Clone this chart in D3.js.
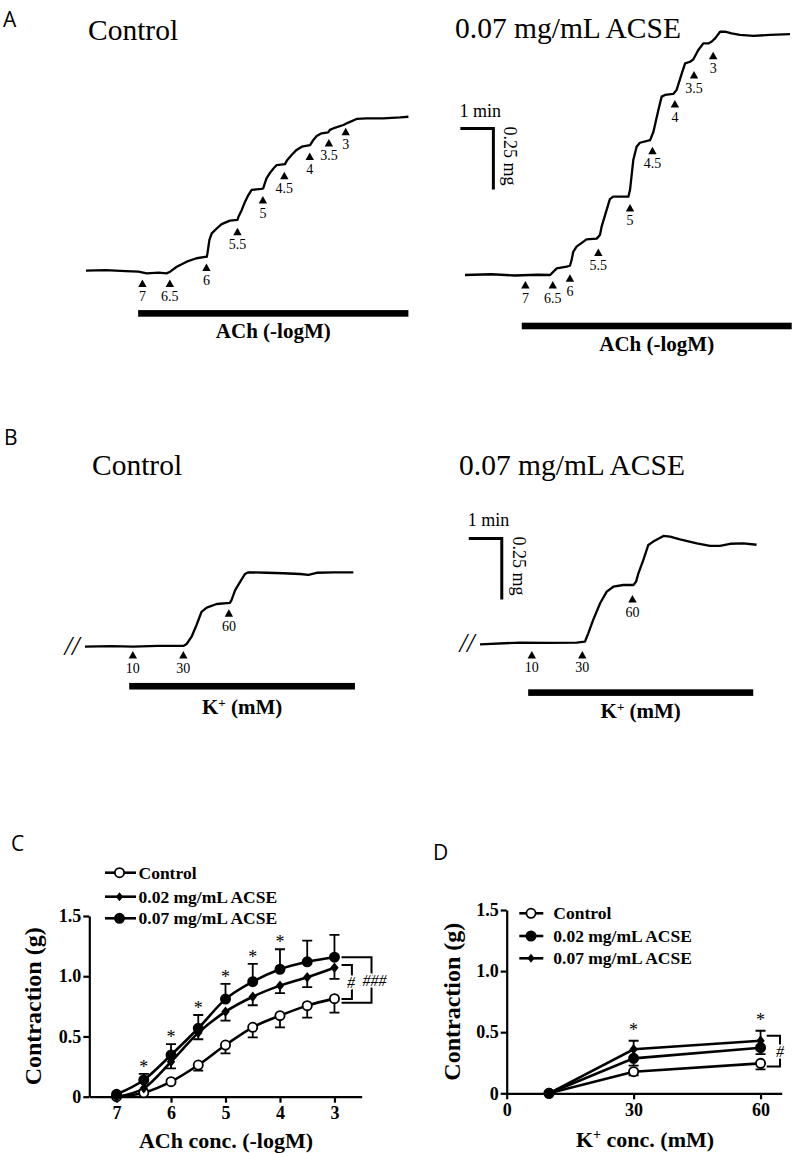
<!DOCTYPE html>
<html>
<head>
<meta charset="utf-8">
<script src="https://cdn.jsdelivr.net/npm/d3@7"></script>
<style>
body { margin: 0; background: #fff; }
svg { display: block; }
text { font-family: "Liberation Serif", "Times New Roman", serif; fill: #000; }
.letter { font-family: "Open Sans", "Noto Sans", sans-serif; font-size: 21px; }
</style>
</head>
<body>
<svg id="fig" width="795" height="1153"></svg>
<script>
// ---- Data: isometric tension traces (time in min, tension in mg) ----
const aControlTrace = [[0,0],[0.6,0.002],[1.2,-0.002],[1.59,-0.004],[1.84,-0.011],[2.2,-0.008],[2.44,-0.011],[2.55,-0.004],[2.75,0.016],[3.05,0.037],[3.35,0.051],[3.61,0.057],[3.66,0.057],[3.68,0.071],[3.74,0.126],[3.81,0.153],[3.96,0.173],[4.11,0.191],[4.36,0.205],[4.59,0.208],[4.62,0.221],[4.72,0.249],[4.82,0.283],[4.92,0.31],[5.02,0.331],[5.32,0.335],[5.37,0.337],[5.4,0.351],[5.47,0.378],[5.58,0.402],[5.68,0.419],[5.78,0.433],[6.03,0.437],[6.1,0.454],[6.23,0.474],[6.38,0.495],[6.54,0.508],[6.79,0.515],[6.89,0.536],[6.99,0.552],[7.14,0.563],[7.34,0.567],[7.39,0.577],[7.49,0.583],[7.8,0.597],[7.95,0.607],[8.2,0.622],[8.5,0.624],[9.01,0.624],[9.52,0.628],[9.77,0.631]]
const aAcseTrace = [[0,0],[0.8,0.003],[1.5,-0.002],[2.2,0.001],[2.58,0],[2.68,0.014],[2.78,0.027],[3.08,0.034],[3.18,0.038],[3.23,0.061],[3.28,0.095],[3.38,0.116],[3.58,0.136],[3.68,0.146],[3.99,0.149],[4.09,0.164],[4.14,0.198],[4.29,0.266],[4.39,0.311],[4.49,0.321],[4.95,0.321],[5.0,0.348],[5.1,0.471],[5.2,0.526],[5.3,0.542],[5.61,0.553],[5.71,0.587],[5.86,0.676],[5.96,0.731],[6.06,0.738],[6.31,0.742],[6.41,0.758],[6.57,0.826],[6.67,0.867],[6.82,0.874],[6.92,0.884],[7.07,0.922],[7.22,0.949],[7.37,0.949],[7.47,0.956],[7.58,0.97],[7.73,0.997],[7.88,0.997],[8.08,0.99],[8.33,0.984],[8.74,0.98],[9.24,0.984],[9.85,0.987]]
const bControlTrace = [[0,0],[0.8,0.002],[1.46,0],[2.2,0.003],[2.98,0.003],[3.08,0.011],[3.23,0.041],[3.38,0.089],[3.53,0.143],[3.69,0.16],[3.99,0.175],[4.39,0.18],[4.44,0.191],[4.55,0.232],[4.7,0.266],[4.85,0.298],[4.95,0.305],[5.5,0.303],[6.01,0.301],[6.52,0.298],[6.77,0.294],[7.02,0.303],[7.53,0.305],[8.13,0.305]]
const bAcseTrace = [[0,0],[1.21,0.007],[2.1,0.006],[2.93,0.007],[3.18,0.011],[3.28,0.045],[3.43,0.1],[3.64,0.168],[3.84,0.216],[4.04,0.236],[4.34,0.243],[4.65,0.243],[4.73,0.257],[4.8,0.291],[4.95,0.346],[5.1,0.407],[5.25,0.421],[5.56,0.444],[5.76,0.441],[6.06,0.43],[6.57,0.414],[6.97,0.403],[7.27,0.403],[7.58,0.412],[7.98,0.414],[8.38,0.408]]

// agonist additions: label, time (min), arrow tip (mg)
const aControlDoses = [["7",1.71,-0.036],["6.5",2.54,-0.036],["6",3.65,0.03],["5.5",4.59,0.176],["5",5.36,0.306],["4.5",6.01,0.406],["4",6.78,0.484],["3.5",7.36,0.54],["3",7.87,0.586]]
const aAcseDoses = [["7",1.83,-0.025],["6.5",2.66,-0.025],["6",3.18,0.003],["5.5",4.04,0.109],["5",5.0,0.291],["4.5",5.68,0.526],["4",6.36,0.717],["3.5",6.94,0.836],["3",7.52,0.915]]
const bControlDoses = [["10",1.45,-0.018],["30",2.98,-0.018],["60",4.36,0.153]]
const bAcseDoses = [["10",1.57,-0.027],["30",3.1,-0.027],["60",4.62,0.202]]

// ---- Data: panel C (ACh concentration-response) ----
const achConc = [7, 6.5, 6, 5.5, 5, 4.5, 4, 3.5, 3]
const achControl = [0, 0.033, 0.125, 0.263, 0.429, 0.576, 0.673, 0.756, 0.814]
const achControlErr = [0, 0.01, 0.015, 0.047, 0.069, 0.083, 0.097, 0.1, 0.116]
const ach002 = [0, 0.07, 0.29, 0.53, 0.706, 0.83, 0.922, 0.992, 1.071]
const ach002Err = [0, 0.02, 0.055, 0.053, 0.075, 0.071, 0.063, 0.083, 0.093]
const ach007 = [0.02, 0.139, 0.346, 0.568, 0.81, 0.955, 1.058, 1.12, 1.158]
const ach007Err = [0, 0.05, 0.09, 0.11, 0.126, 0.147, 0.166, 0.176, 0.185]
const achStars = [6.5, 6, 5.5, 5, 4.5, 4]
const achTicks = [7, 6, 5, 4, 3]
const yTicks = [0, 0.5, 1.0, 1.5]
const yTickLabels = ["0", "0.5", "1.0", "1.5"]

// ---- Data: panel D (K+ concentration-response) ----
const kConc = [10, 30, 60]
const kControl = [0, 0.177, 0.245]
const kControlErr = [0, 0.03, 0.049]
const k002 = [0, 0.286, 0.373]
const k002Err = [0, 0.06, 0.052]
const k007 = [0, 0.36, 0.43]
const k007Err = [0, 0.07, 0.082]
const kStars = [30, 60]
const kTicks = [0, 30, 60]

const svg = d3.select("#fig")

// Panel letters //
svg.append("text").attr("class", "letter").attr("x", 3).attr("y", 27).text("A")
svg.append("text").attr("class", "letter").attr("x", 4).attr("y", 445).text("B")
svg.append("text").attr("class", "letter").attr("x", 11).attr("y", 851).text("C")
svg.append("text").attr("class", "letter").attr("x", 433).attr("y", 860).text("D")


// Trace panels //
function drawTrace(cfg) {
    const g = svg.append("g")
    const x = d3.scaleLinear().domain([0, 10]).range([cfg.x0, cfg.x0 + 330])
    const y = d3.scaleLinear().domain([0, 1]).range([cfg.y0, cfg.y0 - 244])

    g.append("text")
        .attr("x", cfg.title[1]).attr("y", cfg.title[2])
        .style("font-size", "29.5px")
        .text(cfg.title[0])

    g.append("path")
        .datum(cfg.trace)
        .attr("d", d3.line().x(d => x(d[0])).y(d => y(d[1])))
        .attr("fill", "none")
        .attr("stroke", "#000")
        .attr("stroke-width", 2.3)
        .attr("stroke-linejoin", "round")

    const dose = g.selectAll(".dose").data(cfg.doses).enter().append("g")
        .attr("transform", d => `translate(${x(d[1])},${y(d[2])})`)
    dose.append("path").attr("d", "M0,0L4.2,7.5L-4.2,7.5Z").attr("fill", "#000")
    dose.append("text")
        .attr("y", 21.5)
        .attr("text-anchor", "middle")
        .style("font-size", "14px")
        .text(d => d[0])

    // agonist bar
    g.append("rect")
        .attr("x", x(cfg.bar[0])).attr("width", x(cfg.bar[1]) - x(cfg.bar[0]))
        .attr("y", y(cfg.bar[2]) - 3.3).attr("height", 6.6)
        .attr("fill", "#000")
    const lab = g.append("text")
        .attr("x", (x(cfg.bar[0]) + x(cfg.bar[1])) / 2)
        .attr("y", y(cfg.bar[2]) + cfg.labelDy)
        .attr("text-anchor", "middle")
        .style("font-size", "21px").style("font-weight", "bold")
    if (cfg.label === "K") {
        lab.append("tspan").text("K")
        lab.append("tspan").attr("dy", -7).style("font-size", "13px").text("+")
        lab.append("tspan").attr("dy", 7).text(" (mM)")
    } else {
        lab.text(cfg.label)
    }

    if (cfg.breakMark) {
        g.append("text")
            .attr("x", x(0) - 13).attr("y", y(0) + 8)
            .attr("text-anchor", "middle")
            .style("font-size", "27px").style("font-style", "italic")
            .text("//")
    }

    if (cfg.scaleBar) {
        const sb = cfg.scaleBar
        g.append("path")
            .attr("d", `M${x(sb[0] - 1)},${y(sb[1])}H${x(sb[0])}V${y(sb[1] - 0.25)}`)
            .attr("fill", "none").attr("stroke", "#000").attr("stroke-width", 3)
        g.append("text")
            .attr("x", x(sb[0] - 1) - 1).attr("y", y(sb[1]) - 12)
            .style("font-size", "18px")
            .text("1 min")
        g.append("text")
            .attr("transform", `translate(${x(sb[0]) + 11},${y(sb[1]) - 2}) rotate(90)`)
            .style("font-size", "18px")
            .text("0.25 mg")
    }
}

drawTrace({ x0: 86, y0: 270.7, title: ["Control", 88, 40], trace: aControlTrace, doses: aControlDoses,
    bar: [1.58, 9.77, -0.175], label: "ACh (-logM)", labelDy: 25 })
drawTrace({ x0: 465, y0: 275, title: ["0.07 mg/mL ACSE", 455, 38], trace: aAcseTrace, doses: aAcseDoses,
    bar: [1.72, 9.9, -0.209], label: "ACh (-logM)", labelDy: 25.5, scaleBar: [0.86, 0.6] })
drawTrace({ x0: 85, y0: 646.7, title: ["Control", 92, 475], trace: bControlTrace, doses: bControlDoses,
    bar: [1.34, 8.18, -0.162], label: "K", labelDy: 28, breakMark: true })
drawTrace({ x0: 480, y0: 644.3, title: ["0.07 mg/mL ACSE", 459, 475], trace: bAcseTrace, doses: bAcseDoses,
    bar: [1.46, 8.28, -0.198], label: "K", labelDy: 25, breakMark: true, scaleBar: [0.66, 0.434] })


// Marker helper //
function marker(g, type, cx, cy, small) {
    if (type === "diamond") {
        const w = small ? 3.6 : 4.2, h = small ? 4.5 : 5.2
        g.append("path")
            .attr("d", `M0,${-h}L${w},0L0,${h}L${-w},0Z`)
            .attr("transform", `translate(${cx},${cy})`)
            .attr("fill", "#000")
    } else {
        g.append("circle")
            .attr("cx", cx).attr("cy", cy).attr("r", 4.6)
            .attr("fill", type === "open" ? "#fff" : "#000")
            .attr("stroke", "#000").attr("stroke-width", 1.8)
    }
}

function styleAxis(a) {
    a.select(".domain").attr("stroke-width", 2.2)
    a.selectAll(".tick line").attr("stroke-width", 2.2)
    a.selectAll(".tick text")
        .style("font-family", '"Liberation Serif", serif')
        .style("font-size", "18px").style("font-weight", "bold")
}

// Concentration-response panels //
function drawCurves(cfg) {
    const g = svg.append("g")
    const x = d3.scaleLinear().domain(cfg.xDomain).range(cfg.xRange)
    const y = d3.scaleLinear().domain([0, 1.5]).range(cfg.yRange)

    const xa = g.append("g").attr("transform", `translate(0,${cfg.yRange[0]})`)
        .call(d3.axisBottom(x).tickValues(cfg.xTicks).tickFormat(d3.format("d"))
            .tickSize(6).tickSizeOuter(0).tickPadding(4))
    styleAxis(xa)
    const ya = g.append("g").attr("transform", `translate(${cfg.xRange[0]},0)`)
        .call(d3.axisLeft(y).tickValues(yTicks).tickFormat((d, i) => yTickLabels[i])
            .tickSize(6).tickSizeOuter(0).tickPadding(2))
    styleAxis(ya)

    g.append("text")
        .attr("transform", `translate(${cfg.yLabelX},${(cfg.yRange[0] + cfg.yRange[1]) / 2 + cfg.yLabelDy}) rotate(-90)`)
        .attr("text-anchor", "middle")
        .style("font-size", "24px").style("font-weight", "bold")
        .text("Contraction (g)")

    const xl = g.append("text")
        .attr("x", cfg.xLabel[1]).attr("y", cfg.xLabel[2])
        .attr("text-anchor", "middle")
        .style("font-size", "22px").style("font-weight", "bold")
    if (cfg.xLabel[0] === "K") {
        xl.append("tspan").text("K")
        xl.append("tspan").attr("dy", -8).style("font-size", "14px").text("+")
        xl.append("tspan").attr("dy", 8).text(" conc. (mM)")
    } else {
        xl.text(cfg.xLabel[0])
    }

    const line = d3.line().x(d => x(d[0])).y(d => y(d[1])).curve(cfg.curve)
    cfg.series.forEach(s => {
        g.append("path")
            .datum(cfg.xs.map((v, i) => [v, s.values[i]]))
            .attr("d", line)
            .attr("fill", "none").attr("stroke", "#000").attr("stroke-width", 2.6)
    })
    cfg.series.forEach(s => {
        cfg.xs.forEach((v, i) => {
            const e = s.err[i]
            if (!e) return
            const y1 = y(s.values[i]), y2 = y(s.values[i] + s.dir * e)
            g.append("path")
                .attr("d", `M${x(v)},${y1}V${y2}M${x(v) - 5},${y2}H${x(v) + 5}`)
                .attr("stroke", "#000").attr("stroke-width", 1.8).attr("fill", "none")
        })
    })
    cfg.series.forEach(s => {
        cfg.xs.forEach((v, i) => marker(g, s.marker, x(v), y(s.values[i])))
    })

    // significance stars above the top series
    const top = cfg.series[cfg.starSeries]
    cfg.stars.forEach(v => {
        const i = cfg.xs.indexOf(v)
        g.append("text")
            .attr("x", x(v)).attr("y", y(top.values[i] + top.err[i]) - cfg.starGap + 9)
            .attr("text-anchor", "middle")
            .style("font-size", "18px")
            .text("*")
    })

    // brackets
    cfg.brackets.forEach(b => {
        g.append("path")
            .attr("d", `M${x(b.x1)},${y(b.top)}H${x(b.x2)}V${y(b.bottom)}H${x(b.x1)}`)
            .attr("fill", "none").attr("stroke", "#000").attr("stroke-width", 2)
        g.append("text")
            .attr("x", x(b.x2) + b.dx).attr("y", y((b.top + b.bottom) / 2) + 6)
            .attr("text-anchor", "middle")
            .style("font-size", "16px").style("font-style", "italic")
            .attr("stroke", "#fff").attr("stroke-width", 3).attr("paint-order", "stroke")
            .text(b.label)
    })

    // legend
    cfg.series.forEach((s, i) => {
        const ly = cfg.legend.y[i]
        g.append("line")
            .attr("x1", cfg.legend.x1).attr("x2", cfg.legend.x2)
            .attr("y1", ly).attr("y2", ly)
            .attr("stroke", "#000").attr("stroke-width", 2.6)
        marker(g, s.marker, cfg.legend.mx, ly, true)
        g.append("text")
            .attr("x", cfg.legend.tx).attr("y", ly + 6)
            .style("font-size", "17.5px").style("font-weight", "bold")
            .text(s.name)
    })
}

drawCurves({
    xDomain: [7.5, 2.5], xRange: [89.3, 361.7], yRange: [1096.7, 916],
    xTicks: achTicks, xs: achConc, curve: d3.curveMonotoneX,
    yLabelX: 41, yLabelDy: 0, xLabel: ["ACh conc. (-logM)", 226, 1148],
    series: [
        { name: "Control", values: achControl, err: achControlErr, dir: -1, marker: "open" },
        { name: "0.02 mg/mL ACSE", values: ach002, err: ach002Err, dir: -1, marker: "diamond" },
        { name: "0.07 mg/mL ACSE", values: ach007, err: ach007Err, dir: 1, marker: "filled" }
    ],
    starSeries: 2, stars: achStars, starGap: 10,
    brackets: [
        { x1: 2.87, x2: 2.32, top: 1.158, bottom: 0.78, label: "###", dx: 3 },
        { x1: 2.87, x2: 2.68, top: 1.094, bottom: 0.81, label: "#", dx: -1 }
    ],
    legend: { y: [872.7, 896.7, 918.3], x1: 105, x2: 136, mx: 119.5, tx: 138.5 }
})

drawCurves({
    xDomain: [0, 65], xRange: [506.7, 781.7], yRange: [1093.3, 910],
    xTicks: kTicks, xs: kConc, curve: d3.curveLinear,
    yLabelX: 460, yLabelDy: 0, xLabel: ["K", 645, 1147],
    series: [
        { name: "Control", values: kControl, err: kControlErr, dir: -1, marker: "open" },
        { name: "0.02 mg/mL ACSE", values: k002, err: k002Err, dir: -1, marker: "filled" },
        { name: "0.07 mg/mL ACSE", values: k007, err: k007Err, dir: 1, marker: "diamond" }
    ],
    starSeries: 2, stars: kStars, starGap: 14,
    brackets: [
        { x1: 61.45, x2: 64.6, top: 0.47, bottom: 0.22, label: "#", dx: 0 }
    ],
    legend: { y: [913.3, 936, 958.3], x1: 519.3, x2: 543.3, mx: 531, tx: 553.3 }
})
</script>
</body>
</html>
